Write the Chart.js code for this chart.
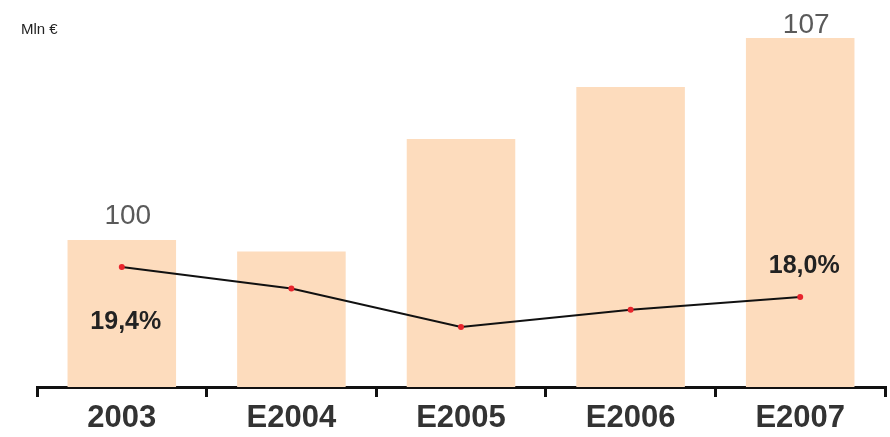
<!DOCTYPE html>
<html>
<head>
<meta charset="utf-8">
<script src="https://cdn.jsdelivr.net/npm/chart.js@4/dist/chart.umd.min.js"></script>
<style>
  html, body { margin: 0; padding: 0; background: #ffffff; }
  #wrap { position: relative; width: 890px; height: 437px; }
</style>
</head>
<body>
<div id="wrap"><canvas id="chart" width="890" height="437"></canvas></div>
<script>
// Years on the category axis
const categories = ['2003', 'E2004', 'E2005', 'E2006', 'E2007'];
// Revenue, Mln €
const revenue = [100, 99.6, 103.5, 105.3, 107];
// Margin, %
const margin = [19.4, 18.4, 16.6, 17.4, 18.0];
// Which bars / points carry a printed value
const revenueLabelled = [0, 4];
const marginLabelled = [0, 4];
const unitLabel = 'Mln €';

const FONT = '"Liberation Sans", Arial, sans-serif';

const fmtPct = v => v.toFixed(1).replace('.', ',') + '%';

// Prints the unit caption and selected values above bars / around points
const annotate = {
  id: 'annotate',
  afterDatasetsDraw(chart) {
    const ctx = chart.ctx;
    ctx.save();
    ctx.fillStyle = '#222222';
    ctx.font = '15px ' + FONT;
    ctx.textAlign = 'left';
    ctx.textBaseline = 'middle';
    ctx.fillText(unitLabel, 21, 30);

    const barMeta = chart.getDatasetMeta(1);
    ctx.fillStyle = '#5a5a5a';
    ctx.font = '28px ' + FONT;
    ctx.textAlign = 'center';
    ctx.textBaseline = 'alphabetic';
    revenueLabelled.forEach(i => {
      const el = barMeta.data[i];
      // keep the value inside the canvas when the bar reaches the top
      const baseY = Math.max(el.y - 16, 33);
      ctx.fillText(String(revenue[i]), el.x + 6, baseY);
    });

    const lineMeta = chart.getDatasetMeta(0);
    ctx.fillStyle = '#222222';
    ctx.font = 'bold 25px ' + FONT;
    ctx.textBaseline = 'middle';
    marginLabelled.forEach((i, k) => {
      const el = lineMeta.data[i];
      const dy = k === 0 ? 55 : -31;
      ctx.fillText(fmtPct(margin[i]), el.x + 4, el.y + dy);
    });
    ctx.restore();
  }
};

new Chart(document.getElementById('chart'), {
  data: {
    labels: categories,
    datasets: [
      {
        type: 'line',
        data: margin,
        yAxisID: 'yPct',
        borderColor: '#111111',
        borderWidth: 2,
        pointRadius: 3,
        pointBackgroundColor: '#e8242c',
        pointBorderWidth: 0,
        tension: 0,
        order: 0
      },
      {
        type: 'bar',
        data: revenue,
        yAxisID: 'yRev',
        backgroundColor: '#fddcbd',
        borderWidth: 0,
        categoryPercentage: 1,
        barPercentage: 0.64,
        order: 1
      }
    ]
  },
  options: {
    responsive: false,
    animation: false,
    layout: { padding: { left: 37, right: 5, top: 10, bottom: 0 } },
    plugins: { legend: { display: false }, tooltip: { enabled: false } },
    scales: {
      x: {
        type: 'category',
        offset: true,
        afterFit(scale) { scale.height = 50; },
        border: { display: true, color: '#111111', width: 3 },
        grid: {
          display: true,
          offset: true,
          drawOnChartArea: false,
          drawTicks: true,
          tickLength: 10,
          color: '#111111',
          lineWidth: 3
        },
        ticks: {
          color: '#333333',
          font: { family: FONT, size: 31, weight: 'bold', lineHeight: 1.2 },
          padding: 3,
          maxRotation: 0
        }
      },
      yRev: {
        type: 'linear',
        display: false,
        min: 94.9,
        max: 107.97
      },
      yPct: {
        type: 'linear',
        display: false,
        min: 13.8,
        max: 31.39
      }
    }
  },
  plugins: [annotate]
});
</script>
</body>
</html>
